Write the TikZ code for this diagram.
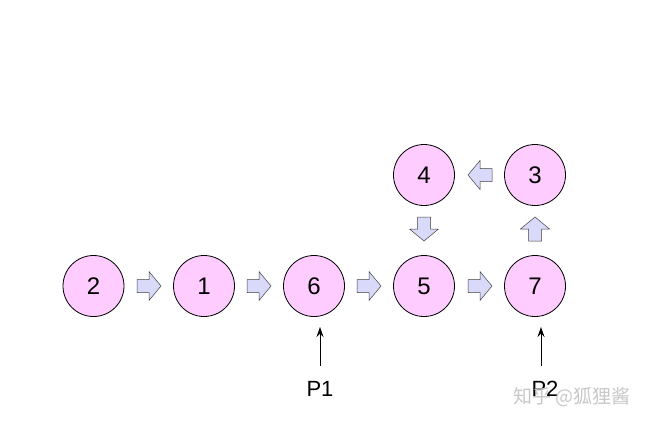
\documentclass[tikz,border=0pt]{standalone}
\usepackage{fontspec}
\setmainfont{Liberation Sans}
\newfontfamily\cjk{Noto Sans CJK SC}
\usetikzlibrary{arrows.meta}
\definecolor{nodepink}{HTML}{FFCCFF}
\definecolor{arrowfill}{HTML}{D9D9FA}
\begin{document}
\begin{tikzpicture}[x=1pt,y=-1pt,
  num/.style={circle,draw=black,line width=0.8pt,fill=nodepink,minimum size=61pt,inner sep=0pt,font=\fontsize{24}{24}\selectfont},
  blockarr/.pic={\draw[draw=black!75,line width=0.5pt,fill=arrowfill,line join=miter]
     (-12,-6.5) -- (0,-6.5) -- (0,-14.5) -- (12,0) -- (0,14.5) -- (0,6.5) -- (-12,6.5) -- cycle;},
  ptr/.style={-{Stealth[length=10pt,width=7pt]},line width=1pt},
  lbl/.style={font=\fontsize{22}{22}\selectfont}]
\useasboundingbox (0,0) rectangle (651,421);
\node[num] (n2) at (93.5,286) {2};
\node[num] (n1) at (204,286) {1};
\node[num] (n6) at (314,286) {6};
\node[num] (n5) at (424,286) {5};
\node[num] (n7) at (535,286) {7};
\node[num] (n4) at (424,175) {4};
\node[num] (n3) at (535,175) {3};
\pic at (149,286) {blockarr};
\pic at (259,286) {blockarr};
\pic at (369,286) {blockarr};
\pic at (480,286) {blockarr};
\pic[rotate=180] at (480,175) {blockarr};
\pic[rotate=-90] at (424,229) {blockarr};
\pic[rotate=90] at (535,229) {blockarr};
\node[lbl] (p1) at (320,389) {P1};
\node[lbl] (p2) at (545,389) {P2};
\coordinate (p1top) at (320,327);
\coordinate (p1bot) at (320,366);
\coordinate (p2top) at (541,327);
\coordinate (p2bot) at (541,366);
\draw[ptr] (p1bot) -- (p1top);
\draw[ptr] (p2bot) -- (p2top);
\node[font=\cjk\fontsize{19}{19}\selectfont,text=black!22] (wm) at (572,397) {知乎 @狐狸酱};
\end{tikzpicture}
\end{document}
